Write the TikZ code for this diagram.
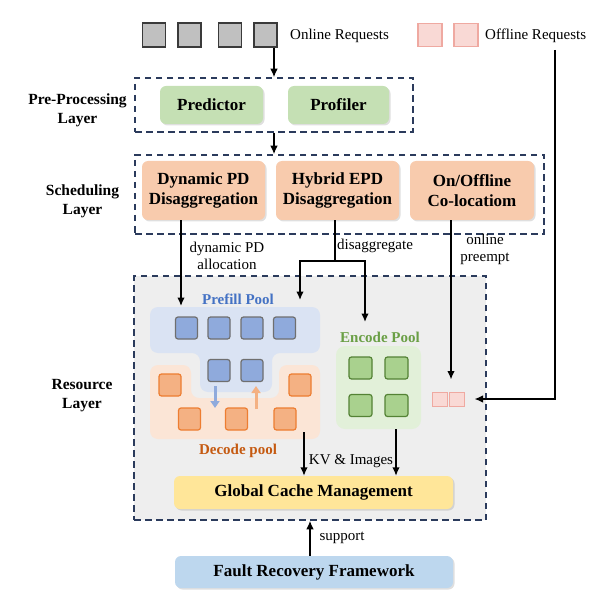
\documentclass[tikz,border=0pt]{standalone}
\usepackage{fontspec}
\setmainfont{Liberation Serif}
\usetikzlibrary{arrows.meta,shadows,calc}
\definecolor{navy}{HTML}{2B3B5C}
\definecolor{resbg}{HTML}{EEEEEE}
\definecolor{graysq}{HTML}{C0C0C0}
\definecolor{graybd}{HTML}{3A3A3A}
\definecolor{pinkf}{HTML}{F9D9D5}
\definecolor{pinkd}{HTML}{EFA9A1}
\definecolor{greenbox}{HTML}{C5E0B4}
\definecolor{orangebox}{HTML}{F8CBAD}
\definecolor{pfbg}{HTML}{DAE3F3}
\definecolor{bluesq}{HTML}{8FAADC}
\definecolor{bluebd}{HTML}{6F6F6F}
\definecolor{decbg}{HTML}{FBE5D6}
\definecolor{orsq}{HTML}{F4B183}
\definecolor{orbd}{HTML}{ED7D31}
\definecolor{encbg}{HTML}{E2F0D9}
\definecolor{grsq}{HTML}{A9D18E}
\definecolor{grbd}{HTML}{548235}
\definecolor{gcmc}{HTML}{FFE699}
\definecolor{frfc}{HTML}{BDD7EE}
\definecolor{pfl}{HTML}{4472C4}
\definecolor{decl}{HTML}{C55A11}
\definecolor{encl}{HTML}{6A9F45}
\begin{document}
\begin{tikzpicture}[x=1pt,y=-1pt,
  dbox/.style={draw=navy, line width=1.5pt, dash pattern=on 6.5pt off 4.5pt, inner sep=0, minimum width=#1},
  sbox/.style={rounded corners=6pt, inner sep=0, align=center, font=\fontsize{17}{20.4}\selectfont\bfseries,
     drop shadow={shadow xshift=1.5pt, shadow yshift=-1.5pt, opacity=0.25}},
  gsq/.style={draw=graybd, fill=graysq, line width=1.4pt, inner sep=0, minimum width=23pt, minimum height=24pt},
  psq/.style={draw=pinkd, fill=pinkf, line width=1.2pt, inner sep=0, minimum width=24pt, minimum height=23pt},
  spsq/.style={draw=pinkd, fill=pinkf, line width=1pt, inner sep=0, minimum width=15pt, minimum height=14pt},
  bsq/.style={draw=bluebd, fill=bluesq, line width=1.2pt, rounded corners=2.5pt, inner sep=0, minimum width=22pt, minimum height=22pt},
  osq/.style={draw=orbd, fill=orsq, line width=1.2pt, rounded corners=2.5pt, inner sep=0, minimum width=22pt, minimum height=22pt},
  grs/.style={draw=grbd, fill=grsq, line width=1.2pt, rounded corners=2.5pt, inner sep=0, minimum width=23pt, minimum height=22pt},
  txt/.style={inner sep=0, font=\fontsize{15}{17}\selectfont, align=center},
  lay/.style={inner sep=0, font=\fontsize{15.5}{18.6}\selectfont\bfseries, align=center},
  pool/.style={inner sep=0, font=\fontsize{15}{17}\selectfont\bfseries},
  arr/.style={draw=black, line width=1.4pt, -{Latex[length=8.5pt,width=7.5pt]}},
  ln/.style={draw=black, line width=1.4pt},
  parr/.style={draw=#1, line width=3pt, -{Triangle[length=7pt,width=9pt]}}
]
\useasboundingbox (0,0) rectangle (595,601);

% top requests
\node[gsq] (g1) at (154,35) {};
\node[gsq] (g2) at (189.5,35) {};
\node[gsq] (g3) at (230,35) {};
\node[gsq] (g4) at (265.5,35) {};
\node[txt, anchor=west] (onl) at (290,36) {Online Requests};
\node[psq] (p1) at (430,35) {};
\node[psq] (p2) at (466,35) {};
\node[txt, anchor=west] (offl) at (485,36) {Offline Requests};

% pre-processing layer
\node[dbox=278pt, minimum height=54pt] (pre) at (274,105) {};
\node[sbox, fill=greenbox, minimum width=103pt, minimum height=38pt] (pred) at (211.5,105) {Predictor};
\node[sbox, fill=greenbox, minimum width=101pt, minimum height=38pt] (prof) at (338.5,105) {Profiler};
\node[lay] (prel) at (77.5,110) {Pre-Processing\\Layer};

% scheduling layer
\node[dbox=409pt, minimum height=79pt] (sched) at (339.5,194.5) {};
\node[sbox, fill=orangebox, minimum width=123pt, minimum height=59pt] (dpd) at (203.5,190.5) {Dynamic PD\\Disaggregation};
\node[sbox, fill=orangebox, minimum width=123pt, minimum height=59pt] (hepd) at (337.5,190.5) {Hybrid EPD\\Disaggregation};
\node[sbox, fill=orangebox, minimum width=124pt, minimum height=59pt] (onoff) at (472,190.5) {On/Offline\\Co-locatiom};
\node[lay] (schl) at (82.5,201.5) {Scheduling\\Layer};

% resource layer
\node[dbox=352pt, minimum height=244pt, fill=resbg] (res) at (310,398) {};
\node[lay] (resl) at (82,395.5) {Resource\\Layer};

% prefill pool region
\fill[pfbg, rounded corners=8pt] (150,307) -- (320,307) -- (320,353) -- (272,353) -- (272,392) -- (200,392) -- (200,353) -- (150,353) -- cycle;
% decode pool region
\fill[decbg, rounded corners=8pt] (150,365) -- (191,365) -- (191,398) -- (279,398) -- (279,365) -- (320,365) -- (320,439) -- (150,439) -- cycle;
\node[pool, text=pfl] (pfl) at (238,299) {Prefill Pool};
\node[pool, text=decl] (decl) at (238,451) {Decode pool};

\node[bsq] (b1) at (186.5,328) {};
\node[bsq] (b2) at (219,328) {};
\node[bsq] (b3) at (252,328) {};
\node[bsq] (b4) at (284.5,328) {};
\node[bsq] (b5) at (219,370.5) {};
\node[bsq] (b6) at (252,370.5) {};

\node[osq] (o1) at (170,385) {};
\node[osq] (o2) at (300,385) {};
\node[osq] (o3) at (189.5,419) {};
\node[osq] (o4) at (236.5,419) {};
\node[osq] (o5) at (285,419) {};

\coordinate (bdA) at (215,386);
\coordinate (bdB) at (215,408);
\coordinate (odA) at (256,409);
\coordinate (odB) at (256,386);
\draw[parr=bluesq] (bdA) -- (bdB);
\draw[parr=orsq] (odA) -- (odB);

% encode pool
\node[fill=encbg, rounded corners=9pt, inner sep=0, minimum width=85pt, minimum height=83pt] (enc) at (378.5,387.5) {};
\node[pool, text=encl] (encl) at (380,337) {Encode Pool};
\node[grs] (e1) at (360.5,368) {};
\node[grs] (e2) at (396.5,368) {};
\node[grs] (e3) at (360.5,405.5) {};
\node[grs] (e4) at (396.5,405.5) {};

% small offline squares
\node[spsq] (sp1) at (439.5,399) {};
\node[spsq] (sp2) at (456.5,399) {};

% cache + fault recovery
\node[sbox, fill=gcmc, minimum width=279pt, minimum height=33pt] (gcm) at (313.5,492.5) {Global Cache Management};
\node[sbox, fill=frfc, minimum width=278pt, minimum height=32pt] (frf) at (314,572) {Fault Recovery Framework};

% connectors
\draw[arr] (g4.south -| pre.north) -- (pre.north);
\draw[arr] (pre.south) -- (pre.south |- sched.north);

\coordinate (pfA) at (181,306);
\draw[arr] (dpd.south -| pfA) -- (pfA);
\node[txt] (dpl) at (227,255.5) {dynamic PD\\allocation};

\coordinate (split) at (335,261);
\coordinate (pfB) at (300,300);
\coordinate (enA) at (365,322);
\draw[ln] (hepd.south -| split) -- (split);
\draw[arr] (split) -| (pfB);
\draw[arr] (split) -| (enA);
\node[txt] (disl) at (375,246) {disaggregate};

\coordinate (opx) at (451,0);
\draw[arr, shorten >=12pt] (onoff.south -| opx) -- (sp1.north -| opx);
\node[txt] (opl) at (485,249.5) {online\\preempt};

\coordinate (offc) at (555,50);
\draw[arr] (offc) |- ([xshift=10pt]sp2.east);

\coordinate (dk) at (304,432);
\draw[arr] (dk) -- (dk |- gcm.north);
\coordinate (ek) at (396,429);
\draw[arr] (ek) -- (ek |- gcm.north);
\node[txt] (kvl) at (351,461) {KV \& Images};

\coordinate (spx) at (310,0);
\draw[arr] (frf.north -| spx) -- (res.south -| spx);
\node[txt] (supl) at (342,538) {support};
\end{tikzpicture}
\end{document}
